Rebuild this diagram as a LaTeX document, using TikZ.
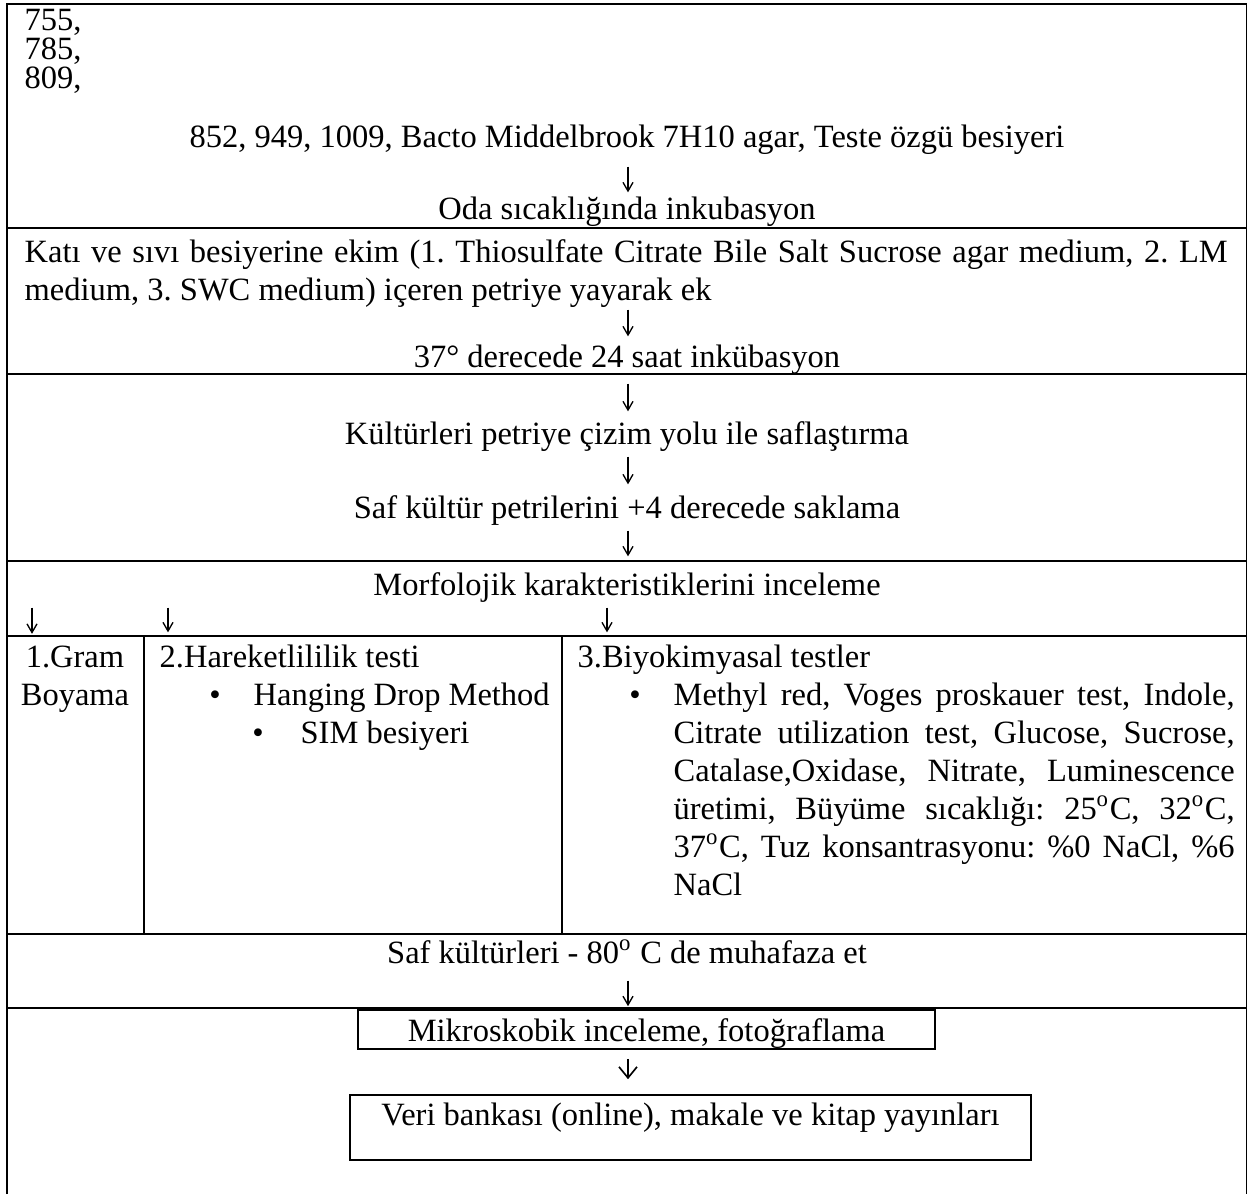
\documentclass[tikz,border=0pt]{standalone}
\usepackage{fontspec}
\setmainfont{Liberation Serif}
\usetikzlibrary{arrows.meta}
\hyphenpenalty=10000
\tolerance=10000
\frenchspacing

\begin{document}
\begin{tikzpicture}[x=0.3pt, y=-0.3pt,
  every node/.style={font=\fontsize{9.75pt}{11.4pt}\selectfont},
  tabline/.style={line width=0.6pt},
  txt/.style={inner sep=0pt, anchor=base, text height=6.9pt, text depth=2.4pt},
  block/.style={inner sep=0pt, anchor=base west, align=justify},
  dn/.style={line width=0.4pt, -{Straight Barb[length=2.6pt,width=3pt]}},
  vee/.style={line width=0.5pt, -{Straight Barb[length=3.3pt,width=5.4pt]}},
  framed/.style={draw, line width=0.5pt, inner sep=0pt, anchor=base}]
\useasboundingbox (0,0) rectangle (1247,1194);
% table
\draw[tabline] (7,1194) -- (7,4) -- (1247,4) -- (1247,1194);
\foreach \y in {228,374,561,636,934,1008}
  \draw[tabline] (7,\y) -- (1247,\y);
\draw[tabline] (144,636) -- (144,934);
\draw[tabline] (562,636) -- (562,934);
% steps
\node[txt, anchor=base west] (n755) at (24,30) {755,};
\node[txt, anchor=base west] (n785) at (24,59) {785,};
\node[txt, anchor=base west] (n809) at (24,88) {809,};
\node[txt] (src) at (627,147) {852, 949, 1009, Bacto Middelbrook 7H10 agar, Teste özgü besiyeri};
\node[txt] (oda) at (627,219) {Oda sıcaklığında inkubasyon};
\node[block, text width=360.9pt] (kati) at (24,262) {Katı ve sıvı besiyerine ekim (1. Thiosulfate Citrate Bile Salt Sucrose agar medium, 2. LM\linebreak medium, 3. SWC medium) içeren petriye yayarak ek};
\node[txt] (inc) at (627,367) {37° derecede 24 saat inkübasyon};
\node[txt] (kult) at (627,444) {Kültürleri petriye çizim yolu ile saflaştırma};
\node[txt] (saklama) at (627,518) {Saf kültür petrilerini +4 derecede saklama};
\node[txt] (morf) at (627,595) {Morfolojik karakteristiklerini inceleme};
% tests
\node[inner sep=0pt, anchor=base, align=center] (gram) at (75,705) {1.Gram\\Boyama};
\node[txt, anchor=base west] (hareket) at (159,667) {2.Hareketlililik testi};
\node[txt] (dot1) at (215,705) {\textbullet};
\node[txt, anchor=base west] (hang) at (253,705) {Hanging Drop Method};
\node[txt] (dot2) at (258,743) {\textbullet};
\node[txt, anchor=base west] (sim) at (300,743) {SIM besiyeri};
\node[txt, anchor=base west] (biyo) at (577,667) {3.Biyokimyasal testler};
\node[txt] (dot3) at (635,705) {\textbullet};
\node[block, text width=168.3pt] (tests) at (673,705) {Methyl red, Voges proskauer test, Indole,\linebreak
  Citrate utilization test, Glucose, Sucrose,\linebreak
  Catalase,Oxidase, Nitrate, Luminescence\linebreak
  üretimi, Büyüme sıcaklığı: 25\textsuperscript{o}C, 32\textsuperscript{o}C,\linebreak
  37\textsuperscript{o}C, Tuz konsantrasyonu: \%0 NaCl, \%6\linebreak NaCl};
\node[txt] (saf80) at (627,963) {Saf kültürleri - 80\textsuperscript{o} C de muhafaza et};
\node[framed, minimum width=173.1pt, text height=9.3pt, text depth=2.4pt] (mikro) at (646.5,1041) {Mikroskobik inceleme, fotoğraflama};
\node[framed, minimum width=204.3pt, text height=9pt, text depth=10.5pt] (veri) at (690.5,1125) {Veri bankası (online), makale ve kitap yayınları};
% arrows
\coordinate (mid) at (628,0);
\coordinate (c1) at (32,0);
\coordinate (c2) at (168,0);
\coordinate (c3) at (607,0);
\draw[dn, shorten <=3.3pt, shorten >=0.9pt] (src.south -| mid) -- (oda.north -| mid);
\draw[dn, shorten <=0.6pt, shorten >=2.1pt] (kati.south -| mid) -- (inc.north -| mid);
\draw[dn, shorten <=2.4pt, shorten >=2.7pt] (inc.south -| mid) -- (kult.north -| mid);
\draw[dn, shorten <=1.2pt, shorten >=3pt] (kult.south -| mid) -- (saklama.north -| mid);
\draw[dn, shorten <=1.2pt, shorten >=4.5pt] (saklama.south -| mid) -- (morf.north -| mid);
\foreach \c/\t in {c1/gram, c2/hareket, c3/biyo}
  \draw[dn, shorten <=1.2pt, shorten >=3.3pt] (morf.south -| \c) -- (\t.north -| \c);
\draw[dn, shorten <=2.7pt, shorten >=0.9pt] (saf80.south -| mid) -- (mikro.north -| mid);
\draw[vee, shorten <=2.7pt, shorten >=4.5pt] (mikro.south -| mid) -- (veri.north -| mid);
\end{tikzpicture}
\end{document}
